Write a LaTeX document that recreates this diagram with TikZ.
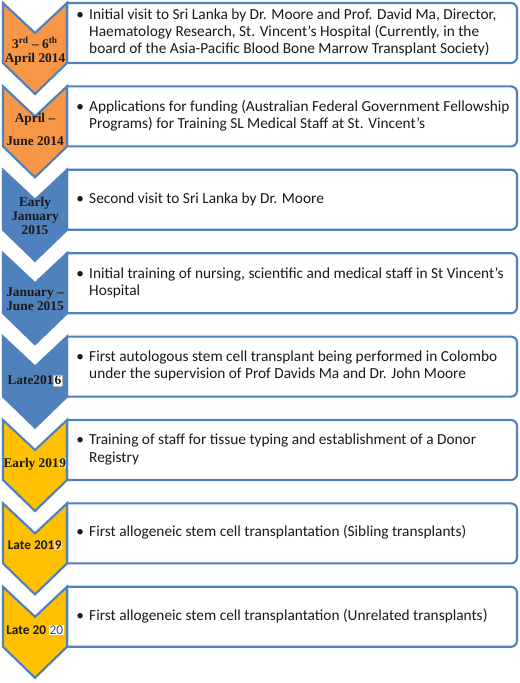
\documentclass[tikz,border=0pt]{standalone}
\usepackage{fontspec}
\setmainfont{Carlito}
\newfontfamily\chevserif{Liberation Serif}
\newfontfamily\chevsans{Carlito}
\usetikzlibrary{calc}
\definecolor{edgeblue}{HTML}{4F81BD}
\definecolor{chorange}{HTML}{F79646}
\definecolor{chblue}{HTML}{4F81BD}
\definecolor{chgold}{HTML}{FFC000}
\definecolor{txtdark}{HTML}{1A1A1A}
\definecolor{numblue}{HTML}{2E4F86}
\newcommand{\wbox}[1]{{\setlength{\fboxsep}{0.6pt}\setlength{\fboxrule}{0.3pt}\fcolorbox{gray!60}{white}{#1}}}
\newcommand{\pbox}[2]{{\setlength{\fboxsep}{0.4pt}\colorbox{#1}{#2}}}
% #1 index, #2 chevron colour, #3 chevron text, #4 chevron text offset, #5 box text
\newcommand{\tlitem}[5]{%
  \pgfmathsetmacro{\T}{3+83.4*(#1-1)}%
  \draw[itembox] (67,\T) -- (300,\T) [rounded corners=4.5pt] -- (517,\T) -- (517,\T+60) -- (300,\T+60) [sharp corners] -- (67,\T+60) -- cycle;
  \draw[chevron, fill=#2] (3,\T) -- (35,\T+30) -- (67,\T) -- (67,\T+60) -- (35,\T+91) -- (3,\T+60) -- cycle;
  \node[chevtext] (c#1) at (35,\T+#4) {#3};
  \node[boxtext] (b#1) at (76,\T+30) {\textbullet\hspace{4pt}\begin{tabular}[t]{@{}l@{}}#5\end{tabular}};
}
\begin{document}
\begin{tikzpicture}[
  x=0.75pt, y=-0.75pt,
  itembox/.style={draw=edgeblue, line width=1.6pt, fill=white},
  chevron/.style={draw=edgeblue, line width=1.6pt, line join=miter},
  chevtext/.style={font=\chevserif\bfseries\fontsize{10}{10.6}\selectfont, align=center, text=txtdark, inner sep=0pt},
  boxtext/.style={font=\fontsize{11.5}{13}\selectfont, anchor=west, align=left, text=txtdark, inner sep=0pt}
]
\useasboundingbox[fill=white] (0,0) rectangle (520,683);
\tlitem{1}{chorange}{3\textsuperscript{rd} – 6\textsuperscript{th}\\April 2014}{48}{Initial visit to Sri Lanka by Dr. Moore and Prof. David Ma, Director,\\Haematology Research, St. Vincent’s Hospital (Currently, in the\\board of the Asia-Pacific Blood Bone Marrow Transplant Society)}
\tlitem{2}{chorange}{April –\\[6pt]June 2014}{43}{Applications for funding (Australian Federal Government Fellowship\\Programs) for Training SL Medical Staff at St. Vincent’s}
\tlitem{3}{chblue}{Early\\January\\2015}{46}{Second visit to Sri Lanka by Dr. Moore}
\tlitem{4}{chblue}{January –\\June 2015}{46}{Initial training of nursing, scientific and medical staff in St Vincent’s\\Hospital}
\tlitem{5}{chblue}{Late201\wbox{6}}{44}{First autologous stem cell transplant being performed in Colombo\\under the supervision of Prof Davids Ma and Dr. John Moore}
\tlitem{6}{chgold}{Early 201\pbox{chgold!55}{9}}{44}{Training of staff for tissue typing and establishment of a Donor\\Registry}
\tlitem{7}{chgold}{{\chevsans\bfseries Late 201\pbox{chgold!55}{9}}}{42}{First allogeneic stem cell transplantation (Sibling transplants)}
\tlitem{8}{chgold}{{\chevsans\bfseries Late 20 \pbox{white}{\mdseries\color{numblue}20}}}{43}{First allogeneic stem cell transplantation (Unrelated transplants{\large)}}
\end{tikzpicture}
\end{document}
